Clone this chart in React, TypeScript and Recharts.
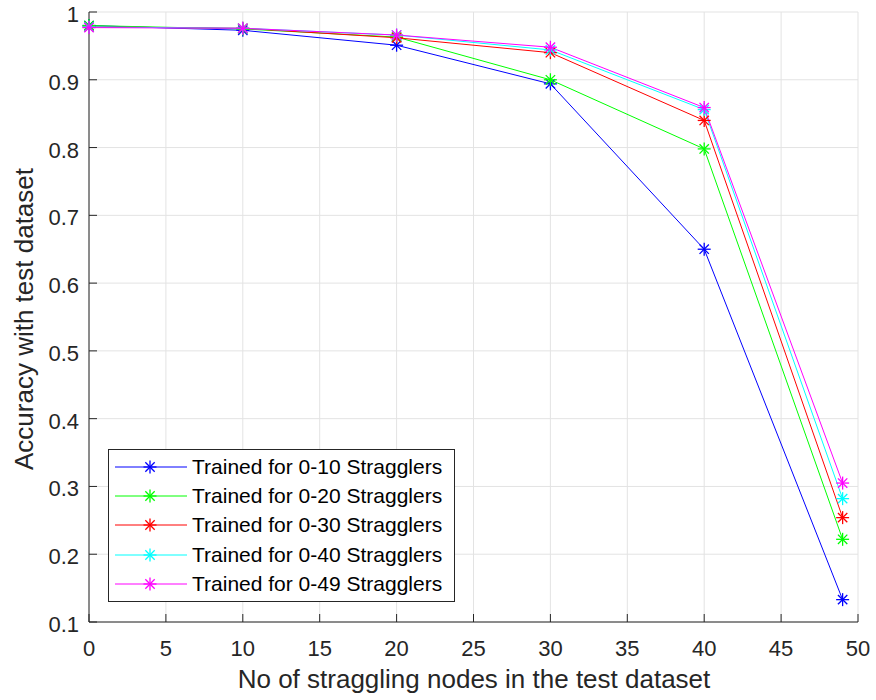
import React from 'react';
import {
  LineChart, Line, XAxis, YAxis, CartesianGrid,
} from 'recharts';

const xValues = [0, 10, 20, 30, 40, 49];
const acc10 = [0.98, 0.973, 0.951, 0.894, 0.65, 0.133];
const acc20 = [0.98, 0.975, 0.963, 0.9, 0.798, 0.222];
const acc30 = [0.978, 0.976, 0.962, 0.94, 0.84, 0.254];
const acc40 = [0.978, 0.976, 0.966, 0.944, 0.856, 0.282];
const acc49 = [0.977, 0.976, 0.966, 0.948, 0.859, 0.305];
const xTicks = [0, 5, 10, 15, 20, 25, 30, 35, 40, 45, 50];
const yTicks = [0.1, 0.2, 0.3, 0.4, 0.5, 0.6, 0.7, 0.8, 0.9, 1];

const SERIES = [
  { key: 's10', name: 'Trained for 0-10 Stragglers', color: '#0000ff', vals: acc10 },
  { key: 's20', name: 'Trained for 0-20 Stragglers', color: '#00ff00', vals: acc20 },
  { key: 's30', name: 'Trained for 0-30 Stragglers', color: '#ff0000', vals: acc30 },
  { key: 's40', name: 'Trained for 0-40 Stragglers', color: '#00ffff', vals: acc40 },
  { key: 's49', name: 'Trained for 0-49 Stragglers', color: '#ff00ff', vals: acc49 },
];

const data = xValues.map((x, i) => {
  const row: Record<string, number> = { x };
  SERIES.forEach((s) => { row[s.key] = s.vals[i]; });
  return row;
});

const FONT = '"Liberation Sans", Arial, sans-serif';
const AXIS = '#262626';
const GRID = '#e3e3e3';
const TICK_LEN = 8;

// ── MATLAB-style asterisk marker ────────────────────────────────────────────

function Star({ cx, cy, color, r = 6.5 }: { cx: number; cy: number; color: string; r?: number }) {
  const d = r * 0.72;
  return (
    <g stroke={color} strokeWidth={1.3}>
      <line x1={cx - r} y1={cy} x2={cx + r} y2={cy} />
      <line x1={cx} y1={cy - r} x2={cx} y2={cy + r} />
      <line x1={cx - d} y1={cy - d} x2={cx + d} y2={cy + d} />
      <line x1={cx - d} y1={cy + d} x2={cx + d} y2={cy - d} />
    </g>
  );
}

// ── inward ticks ───────────────────────────────────────────────────────────

const BottomTick = ({ x, y, payload }: any) => (
  <g>
    <line x1={x} y1={y} x2={x} y2={y - TICK_LEN} stroke={AXIS} />
    <text x={x} y={y + 34} textAnchor="middle" fontSize={22} fill={AXIS} fontFamily={FONT}>
      {payload.value}
    </text>
  </g>
);
const TopTick = ({ x, y }: any) => (
  <line x1={x} y1={y} x2={x} y2={y + TICK_LEN} stroke={AXIS} />
);
const LeftTick = ({ x, y, payload }: any) => (
  <g>
    <line x1={x} y1={y} x2={x + TICK_LEN} y2={y} stroke={AXIS} />
    <text x={x - 10} y={y + 10} textAnchor="end" fontSize={22} fill={AXIS} fontFamily={FONT}>
      {payload.value === 1 ? '1' : payload.value.toFixed(1)}
    </text>
  </g>
);
const RightTick = ({ x, y }: any) => (
  <line x1={x} y1={y} x2={x - TICK_LEN} y2={y} stroke={AXIS} />
);

function LegendBox() {
  return (
    <div
      style={{
        position: 'absolute',
        left: 108,
        top: 449,
        border: '1.5px solid #262626',
        background: '#fff',
        width: 347,
        height: 153,
        boxSizing: 'border-box',
        padding: '2px 0 0 6px',
        fontFamily: FONT,
        fontSize: 21,
        color: '#000',
      }}
    >
      {SERIES.map((s) => (
        <div key={s.key} style={{ display: 'flex', alignItems: 'center', height: 29.4 }}>
          <svg width={72} height={20} style={{ flex: 'none' }}>
            <line x1={0} y1={10} x2={72} y2={10} stroke={s.color} strokeWidth={1} />
            <Star cx={35} cy={10} color={s.color} />
          </svg>
          <span style={{ marginLeft: 5, whiteSpace: 'nowrap' }}>{s.name}</span>
        </div>
      ))}
    </div>
  );
}

export default function App() {
  return (
    <div style={{ position: 'absolute', left: 0, top: 0, width: 876, height: 700, background: '#fff' }}>
      <LineChart
        width={876}
        height={700}
        data={data}
        margin={{ top: 12, right: 18, left: 29, bottom: 48 }}
      >
        <CartesianGrid xAxisId="b" yAxisId="l" stroke={GRID} strokeWidth={1} />
        <XAxis
          xAxisId="b"
          dataKey="x"
          type="number"
          domain={[0, 50]}
          ticks={xTicks}
          height={30}
          tickSize={0}
          tickMargin={0}
          tickLine={false}
          axisLine={{ stroke: AXIS }}
          tick={<BottomTick />}
          interval={0}
        />
        <XAxis
          xAxisId="t"
          orientation="top"
          dataKey="x"
          type="number"
          domain={[0, 50]}
          ticks={xTicks}
          height={0}
          tickSize={0}
          tickMargin={0}
          tickLine={false}
          axisLine={{ stroke: AXIS }}
          tick={<TopTick />}
          interval={0}
        />
        <YAxis
          yAxisId="l"
          type="number"
          domain={[0.1, 1]}
          ticks={yTicks}
          width={60}
          tickSize={0}
          tickMargin={0}
          tickLine={false}
          axisLine={{ stroke: AXIS }}
          tick={<LeftTick />}
          interval={0}
        />
        <YAxis
          yAxisId="r"
          orientation="right"
          type="number"
          domain={[0.1, 1]}
          ticks={yTicks}
          width={0}
          tickSize={0}
          tickMargin={0}
          tickLine={false}
          axisLine={{ stroke: AXIS }}
          tick={<RightTick />}
          interval={0}
        />
        {SERIES.map((s) => (
          <Line
            key={s.key}
            xAxisId="b"
            yAxisId="l"
            type="linear"
            dataKey={s.key}
            name={s.name}
            stroke={s.color}
            strokeWidth={1}
            dot={(p: any) => <Star key={`${s.key}-${p.index}`} cx={p.cx} cy={p.cy} color={s.color} />}
            activeDot={false}
            isAnimationActive={false}
          />
        ))}
        <text
          x={474}
          y={688}
          textAnchor="middle"
          fontSize={26}
          fill={AXIS}
          fontFamily={FONT}
        >
          No of straggling nodes in the test dataset
        </text>
        <text
          x={33}
          y={319}
          textAnchor="middle"
          fontSize={26}
          fill={AXIS}
          fontFamily={FONT}
          transform="rotate(-90 33 319)"
        >
          Accuracy with test dataset
        </text>
      </LineChart>
      <LegendBox />
    </div>
  );
}
